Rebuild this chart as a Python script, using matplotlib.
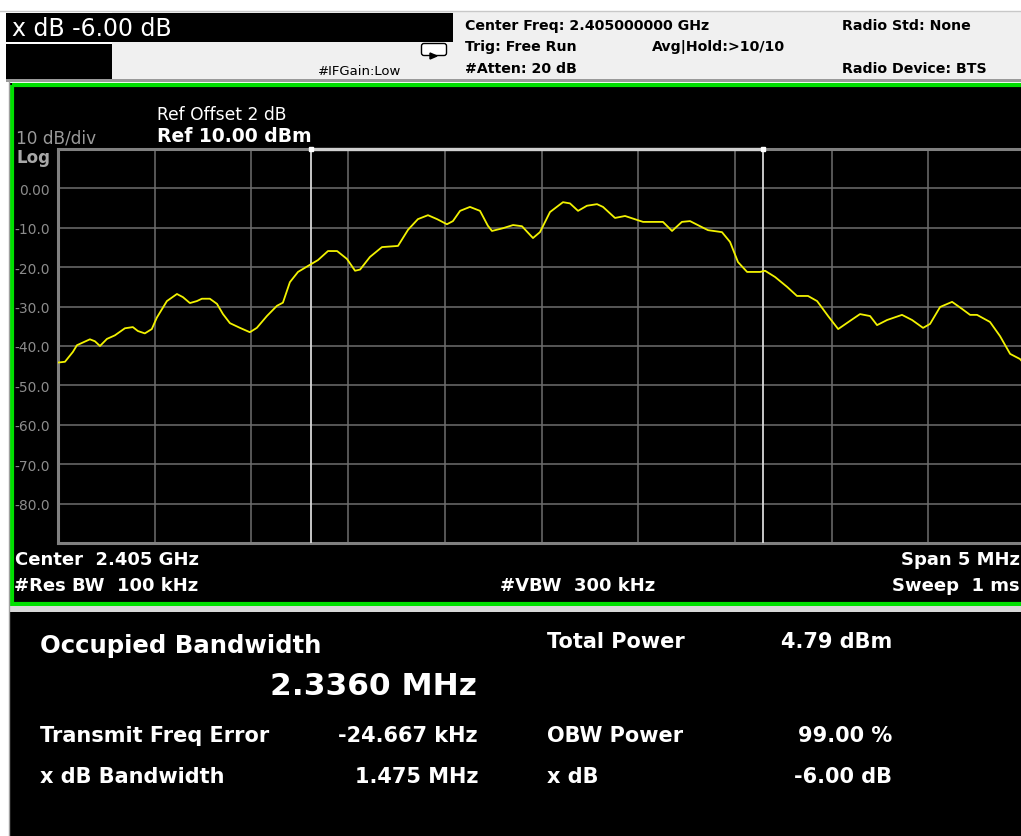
import matplotlib.pyplot as plt
from matplotlib.patches import Rectangle, FancyBboxPatch, Polygon

## trace: offset from center (MHz) / level (dBm)
freq_mhz = [-2.500, -2.464, -2.423, -2.402, -2.335, -2.309, -2.283, -2.247, -2.206,
            -2.154, -2.113, -2.087, -2.051, -2.015, -1.989, -1.937, -1.885, -1.854,
            -1.818, -1.782, -1.756, -1.715, -1.678, -1.647, -1.611, -1.559, -1.508,
            -1.472, -1.420, -1.368, -1.337, -1.301, -1.259, -1.208, -1.156, -1.104,
            -1.057, -1.006, -0.964, -0.938, -0.887, -0.825, -0.742, -0.690, -0.639,
            -0.587, -0.540, -0.489, -0.458, -0.421, -0.370, -0.318, -0.277, -0.256,
            -0.199, -0.147, -0.101, -0.044, -0.008, 0.044, 0.111, 0.147, 0.189,
            0.235, 0.287, 0.318, 0.380, 0.432, 0.494, 0.525, 0.628, 0.675, 0.726,
            0.768, 0.820, 0.861, 0.933, 0.975, 1.016, 1.063, 1.130, 1.156, 1.208,
            1.270, 1.321, 1.378, 1.425, 1.482, 1.534, 1.596, 1.647, 1.699, 1.735,
            1.787, 1.864, 1.916, 1.973, 2.009, 2.061, 2.123, 2.175, 2.216, 2.252,
            2.319, 2.371, 2.423, 2.474, 2.500]
level_dbm = [-44.2, -44.0, -41.5, -39.8, -38.3, -38.8, -40.0, -38.2, -37.3,
             -35.5, -35.2, -36.2, -36.8, -35.7, -32.8, -28.6, -26.8, -27.6,
             -29.1, -28.6, -28.0, -28.0, -29.3, -31.9, -34.2, -35.4, -36.5,
             -35.4, -32.4, -29.8, -29.0, -23.8, -21.2, -19.7, -18.2, -15.9,
             -15.9, -17.9, -20.9, -20.6, -17.4, -14.9, -14.6, -10.5, -7.8,
             -6.8, -7.8, -9.1, -8.3, -5.7, -4.7, -5.7, -9.5, -10.8,
             -10.1, -9.3, -9.6, -12.6, -11.1, -6.0, -3.5, -3.8, -5.7,
             -4.4, -4.0, -4.7, -7.5, -7.0, -8.0, -8.5, -8.5, -10.8, -8.5,
             -8.3, -9.6, -10.6, -11.1, -13.6, -18.7, -21.2, -21.2, -20.9, -22.5,
             -25.0, -27.3, -27.3, -28.6, -32.4, -35.7, -33.6, -31.9, -32.4, -34.7,
             -33.4, -32.1, -33.4, -35.4, -34.4, -30.1, -28.8, -30.6, -32.1, -32.1,
             -33.9, -37.5, -42.0, -43.3, -44.8]

## settings shown on screen
span_mhz = 5.0
ref_level = 10.0
n_div = 10
obw_mhz = 2.336
freq_err_mhz = -0.024667
ytick_vals = [0, -10, -20, -30, -40, -50, -60, -70, -80]
ytick_labels = ['0.00', '-10.0', '-20.0', '-30.0', '-40.0', '-50.0', '-60.0', '-70.0', '-80.0']
xgrid_mhz = [-2.0, -1.5, -1.0, -0.5, 0.0, 0.5, 1.0, 1.5, 2.0]

W, H = 1021, 837
fig = plt.figure(figsize=(W / 100, H / 100), dpi=100)
fig.patch.set_facecolor('white')

## background layer in pixel coords
bg = fig.add_axes([0, 0, 1, 1])
bg.set_xlim(0, W)
bg.set_ylim(H, 0)
bg.axis('off')

bg.plot([0, W], [12, 12], color='#c8c8c8', lw=1)
bg.add_patch(Rectangle((112, 13), W - 112, 67, color='#f0f0f0', lw=0))
bg.add_patch(Rectangle((453, 13), W - 453, 67, color='#f0f0f0', lw=0))
bg.add_patch(Rectangle((6, 14), 447, 29, color='black', lw=0))
bg.add_patch(Rectangle((6, 45), 106, 35, color='black', lw=0))
bg.add_patch(Rectangle((6, 80), W, 3, color='#9a9a9a', lw=0))
bg.plot([8.5, 8.5], [83, H], color='#a0a0a0', lw=1)

# little icon in the header
bg.add_patch(FancyBboxPatch((424, 47), 20, 7, boxstyle='round,pad=2.5',
                            fc='white', ec='black', lw=1))
bg.add_patch(Polygon([[430, 54], [437, 57], [430, 60]], closed=True, color='black'))

# graph window with green frame
bg.add_patch(Rectangle((10, 84), W, 523, fc='black', lw=0))
bg.add_patch(Rectangle((12, 86), W + 10, 519, fill=False, ec='#00e000', lw=3))
bg.add_patch(Rectangle((10, 607), W, 6, color='#d8d8d8', lw=0))
bg.add_patch(Rectangle((10, 613), W, H - 613, fc='black', lw=0))

## header texts
bg.text(12, 36, 'x dB -6.00 dB', color='white', fontsize=17)
bg.text(318, 75, '#IFGain:Low', color='black', fontsize=9.5)
hdr = dict(color='black', fontsize=10.2, fontweight='bold')
bg.text(465, 30, 'Center Freq: 2.405000000 GHz', **hdr)
bg.text(465, 51, 'Trig: Free Run', **hdr)
bg.text(652, 51, 'Avg|Hold:>10/10', **hdr)
bg.text(465, 72.5, '#Atten: 20 dB', **hdr)
bg.text(842, 30, 'Radio Std: None', **hdr)
bg.text(842, 72.5, 'Radio Device: BTS', **hdr)

## graph annotations
bg.text(157, 120, 'Ref Offset 2 dB', color='white', fontsize=12.3)
bg.text(157, 142, 'Ref 10.00 dBm', color='white', fontsize=13.5, fontweight='bold')
bg.text(16, 143, '10 dB/div', color='#9a9a9a', fontsize=12.2)
bg.text(16, 162.5, 'Log', color='#a8a8a8', fontsize=12, fontweight='bold')

ann = dict(color='white', fontsize=13, fontweight='bold')
bg.text(15, 565, 'Center  2.405 GHz', **ann)
bg.text(14, 591, '#Res BW  100 kHz', **ann)
bg.text(500, 591, '#VBW  300 kHz', **ann)
bg.text(1020, 565, 'Span 5 MHz', ha='right', **ann)
bg.text(1020, 591, 'Sweep  1 ms', ha='right', **ann)

## result panel
res = dict(color='white', fontsize=15, fontweight='bold')
bg.text(40, 653, 'Occupied Bandwidth', color='white', fontsize=17.6, fontweight='bold')
bg.text(477, 695, '2.3360 MHz', color='white', fontsize=22.5, fontweight='bold', ha='right')
bg.text(40, 742, 'Transmit Freq Error', **res)
bg.text(478, 742, '-24.667 kHz', ha='right', **res)
bg.text(40, 783, 'x dB Bandwidth', **res)
bg.text(478, 783, '1.475 MHz', ha='right', **res)
bg.text(547, 648, 'Total Power', **res)
bg.text(892, 648, '4.79 dBm', ha='right', **res)
bg.text(547, 742, 'OBW Power', **res)
bg.text(892, 742, '99.00 %', ha='right', **res)
bg.text(547, 783, 'x dB', **res)
bg.text(892, 783, '-6.00 dB', ha='right', **res)

## spectrum graticule
ax = fig.add_axes([58 / W, 1 - 544 / H, 967 / W, 394 / H])
ax.set_facecolor('black')
ax.set_xlim(-span_mhz / 2, span_mhz / 2)
ax.set_ylim(ref_level - n_div * 10, ref_level)
ax.set_xticks(xgrid_mhz)
ax.set_xticklabels([])
ax.set_yticks(ytick_vals, ytick_labels)
ax.tick_params(axis='both', length=0)
ax.tick_params(axis='y', pad=5.8, labelcolor='#8c8c8c', labelsize=10)
ax.grid(True, color='#6e6e6e', lw=1.1)
for s in ax.spines.values():
    s.set_color('#808080')
    s.set_linewidth(2.2)

# OBW marker lines
obw_lo = freq_err_mhz - obw_mhz / 2
obw_hi = freq_err_mhz + obw_mhz / 2
for xm in (obw_lo, obw_hi):
    ax.axvline(xm, color='#d8d8d8', lw=1.3, zorder=3)
ax.plot([obw_lo, obw_hi], [ref_level, ref_level], color='#d0d0d0', lw=2.4,
        clip_on=False, zorder=4)
ax.plot([obw_lo, obw_hi], [ref_level, ref_level], 's', color='white', ms=2.5,
        clip_on=False, zorder=5)

ax.plot(freq_mhz, level_dbm, color='#f2f200', lw=1.3, zorder=6)

fig.savefig('out.png', dpi=100, facecolor=fig.get_facecolor())
